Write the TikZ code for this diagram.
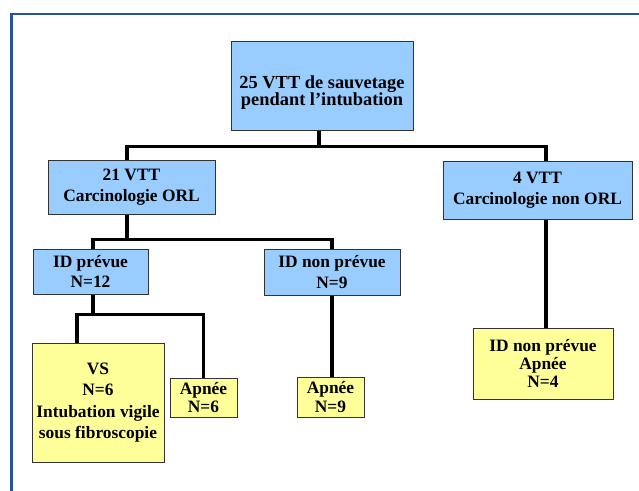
\documentclass[tikz,border=0pt]{standalone}
\usepackage{fontspec}
\setmainfont{Liberation Serif}
\usepackage{tikz}

\definecolor{boxblue}{RGB}{153,204,255}
\definecolor{boxyellow}{RGB}{255,255,153}
\definecolor{framebl}{RGB}{40,80,155}

\begin{document}
\begin{tikzpicture}[x=1pt,y=-1pt,
  box/.style={draw=black!80,line width=1pt,align=center,inner sep=0pt,
    font=\fontsize{17.4}{20.7}\selectfont\bfseries},
  bluebox/.style={box,fill=boxblue},
  yellowbox/.style={box,fill=boxyellow},
  link/.style={line width=3.5pt}]
\useasboundingbox (0,0) rectangle (639,490);
\clip (0,0) rectangle (639,490);
% frame
\draw[framebl,line width=2.5pt] (11.5,500) |- (650,14);
% boxes
\node[bluebox,minimum width=182,minimum height=89,
  font=\fontsize{18.4}{17}\selectfont\bfseries] (top) at (322,85.5)
  {\rule{0pt}{27pt}25 VTT de sauvetage\\pendant l'intubation};
\node[bluebox,minimum width=167,minimum height=54] (orl) at (131.5,187)
  {21 VTT\\Carcinologie ORL};
\node[bluebox,minimum width=189,minimum height=58] (nonorl) at (537.5,190)
  {4 VTT\\Carcinologie non ORL};
\node[bluebox,minimum width=115,minimum height=45] (idp) at (90.5,271.5)
  {ID prévue\\N=12};
\node[bluebox,minimum width=136,minimum height=46] (idnp) at (332,272)
  {ID non prévue\\N=9};
\node[yellowbox,minimum width=132,minimum height=119,
  font=\fontsize{17.4}{21.5}\selectfont\bfseries] (vs) at (98,402.5)
  {VS\\N=6\\Intubation vigile\\sous fibroscopie};
\node[yellowbox,minimum width=67,minimum height=39,
  font=\fontsize{17.4}{18.3}\selectfont\bfseries] (apsix) at (203.5,397.5)
  {Apnée\\N=6};
\node[yellowbox,minimum width=67,minimum height=40,
  font=\fontsize{17.4}{18.3}\selectfont\bfseries] (apnine) at (330.5,397)
  {Apnée\\N=9};
\node[yellowbox,minimum width=140,minimum height=71,
  font=\fontsize{17.4}{18.3}\selectfont\bfseries] (idna) at (543,363.5)
  {ID non prévue\\Apnée\\N=4};
% tree links
\draw[link] ([xshift=-3]top.south) -- ++(0,16) coordinate (busa);
\draw[link] ([xshift=-4.5]orl.north) |- (busa) -| ([xshift=8.5]nonorl.north);
\draw[link] ([xshift=-4.5]orl.south) -- ++(0,25) coordinate (busb);
\draw[link] ([xshift=2.5]idp.north) |- (busb) -| (idnp.north);
\draw[link] ([xshift=2.5]idp.south) -- ++(0,20) coordinate (busc);
\draw[link] ([xshift=-21]vs.north) |- (busc) -| (apsix.north);
\draw[link] (idnp.south) -- (idnp.south |- apnine.north);
\draw[link] ([xshift=8.5]nonorl.south) -- ([xshift=8.5]nonorl.south |- idna.north);
\end{tikzpicture}
\end{document}
